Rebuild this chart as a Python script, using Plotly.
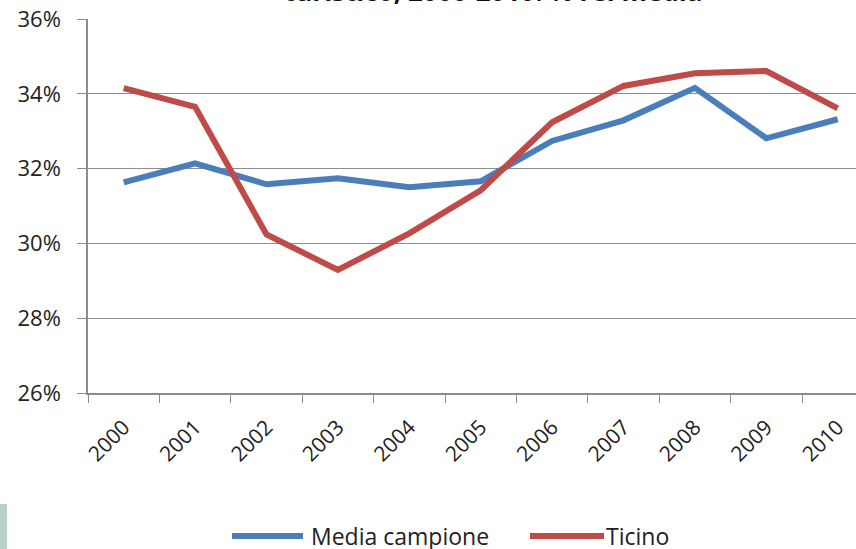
import plotly.graph_objects as go

years = ["2000", "2001", "2002", "2003", "2004", "2005", "2006", "2007", "2008", "2009", "2010"]
media_campione = [31.63, 32.14, 31.58, 31.74, 31.50, 31.66, 32.74, 33.29, 34.16, 32.81, 33.32]
ticino = [34.15, 33.65, 30.24, 29.29, 30.27, 31.42, 33.24, 34.21, 34.55, 34.61, 33.61]
series_names = ["Media campione", "Ticino"]
colors = ["#4A7EBB", "#BE4B48"]
title_text = "turistico, 2000-2010: % rel media"

W, H = 856, 549
L, R, T, B = 88, 0, 19, 156
pw = W - L - R
ph = H - T - B
cat_px = 71.4
x_hi = -0.5 + pw / cat_px

font = "Open Sans"

fig = go.Figure()
for name, vals, col in zip(series_names, [media_campione, ticino], colors):
    fig.add_trace(go.Scatter(x=years, y=vals, mode="lines", name=name,
                             line=dict(color=col, width=6), showlegend=False))

fig.update_layout(
    width=W, height=H,
    margin=dict(l=L, r=R, t=T, b=B, pad=0),
    plot_bgcolor="white", paper_bgcolor="white",
    showlegend=False,
)
fig.update_xaxes(type="category", range=[-0.5, x_hi], tickson="boundaries",
                 ticks="outside", ticklen=8, tickcolor="#8c8c8c", tickwidth=1,
                 showline=True, linecolor="#8c8c8c", linewidth=1.5,
                 showgrid=False, tickangle=-45, ticklabelstandoff=12,
                 tickfont=dict(family=font, size=21, color="#222"))
fig.update_yaxes(range=[26, 36], dtick=2, ticksuffix="%",
                 ticks="outside", ticklen=9, tickcolor="#8c8c8c", tickwidth=1,
                 showline=True, linecolor="#8c8c8c", linewidth=1.5,
                 showgrid=True, gridcolor="#8c8c8c", gridwidth=1,
                 zeroline=False, ticklabelstandoff=12,
                 tickfont=dict(family=font, size=22, color="#222"))

def px_to_paper_x(px):
    return (px - L) / pw

def px_to_paper_y(py):
    return (H - B - py) / ph

# title (cropped at top, as in the reference)
fig.add_annotation(text="<b>" + title_text + "</b>", xref="paper", yref="paper",
                   x=px_to_paper_x(493), y=1, xanchor="center", yanchor="bottom",
                   yshift=8, showarrow=False,
                   font=dict(family=font, size=26, color="#111"))

# custom legend
ly = px_to_paper_y(536)
legend_items = [(232, 303, 309), (530, 604, 604)]
for (x0, x1, tx), name, col in zip(legend_items, series_names, colors):
    fig.add_shape(type="line", xref="paper", yref="paper",
                  x0=px_to_paper_x(x0), x1=px_to_paper_x(x1), y0=ly, y1=ly,
                  line=dict(color=col, width=6))
    fig.add_annotation(text=name, xref="paper", yref="paper",
                       x=px_to_paper_x(tx), y=ly, xanchor="left", yanchor="middle",
                       showarrow=False, font=dict(family=font, size=23, color="#222"))

# decorative bar at the bottom-left
fig.add_shape(type="rect", xref="paper", yref="paper",
              x0=px_to_paper_x(0), x1=px_to_paper_x(7),
              y0=px_to_paper_y(549), y1=px_to_paper_y(504),
              fillcolor="#B7D3C8", line=dict(width=0), layer="above")

fig.write_html("out.html", config={"displayModeBar": False},
               post_script="document.body.style.margin='0';document.body.style.overflow='hidden';")
